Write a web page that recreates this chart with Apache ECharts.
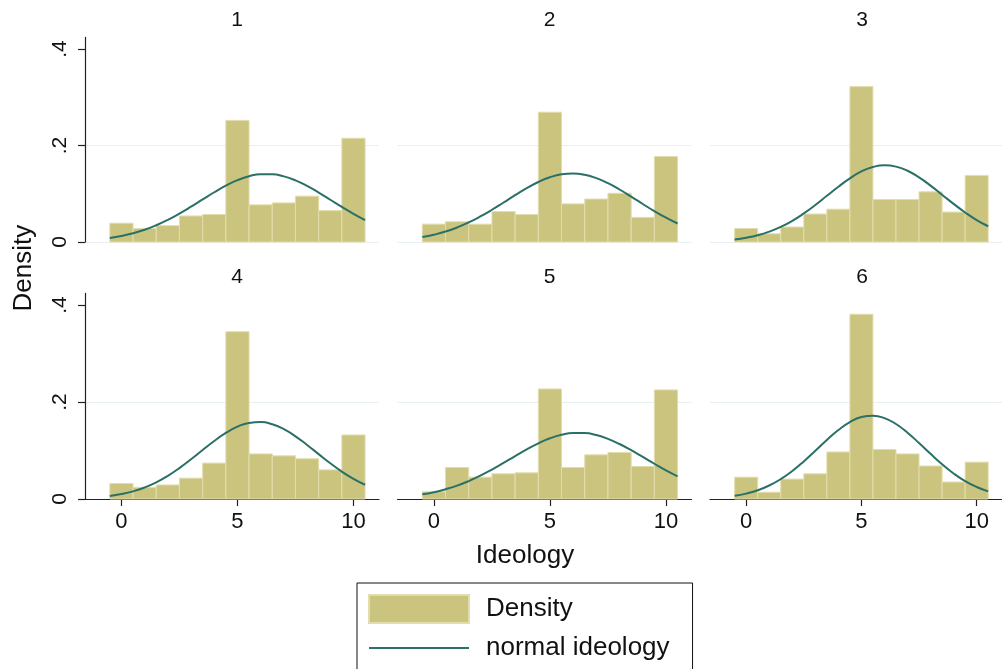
<!DOCTYPE html>
<html>
<head>
<meta charset="utf-8">
<script src="https://cdn.jsdelivr.net/npm/echarts@6/dist/echarts.min.js"></script>
<style>html,body{margin:0;padding:0;background:#fff;}#c{width:1002px;height:669px;}</style>
</head>
<body>
<div id="c"></div>
<script>
// ---- data ----
const panelTitles = ['1', '2', '3', '4', '5', '6'];
const bins = [0, 1, 2, 3, 4, 5, 6, 7, 8, 9, 10];
const binWidth = 1;
const dens1 = [0.039, 0.028, 0.034, 0.054, 0.057, 0.252, 0.077, 0.081, 0.095, 0.065, 0.215];
const dens2 = [0.037, 0.042, 0.037, 0.063, 0.057, 0.269, 0.079, 0.089, 0.101, 0.051, 0.177];
const dens3 = [0.028, 0.017, 0.031, 0.058, 0.068, 0.322, 0.088, 0.088, 0.104, 0.062, 0.138];
const dens4 = [0.032, 0.024, 0.029, 0.043, 0.074, 0.345, 0.093, 0.089, 0.083, 0.060, 0.132];
const dens5 = [0.015, 0.065, 0.045, 0.052, 0.054, 0.227, 0.065, 0.091, 0.096, 0.067, 0.225];
const dens6 = [0.045, 0.014, 0.041, 0.052, 0.097, 0.381, 0.102, 0.093, 0.068, 0.035, 0.076];
const curveX = [-0.5, 0, 0.5, 1, 1.5, 2, 2.5, 3, 3.5, 4, 4.5, 5, 5.5, 6, 6.5, 7, 7.5, 8, 8.5, 9, 9.5, 10, 10.5];
const norm1 = [0.0083,0.0124,0.0180,0.0254,0.0347,0.0459,0.0589,0.0732,0.0882,0.1031,0.1167,0.1281,0.1363,0.1405,0.1404,0.1360,0.1277,0.1162,0.1025,0.0876,0.0726,0.0583,0.0454];
const norm2 = [0.0102,0.0151,0.0216,0.0301,0.0405,0.0529,0.0668,0.0819,0.0971,0.1116,0.1243,0.1341,0.1402,0.1420,0.1393,0.1324,0.1220,0.1088,0.0941,0.0788,0.0639,0.0503,0.0383];
const norm3 = [0.0054,0.0089,0.0140,0.0214,0.0312,0.0438,0.0592,0.0767,0.0957,0.1146,0.1320,0.1462,0.1555,0.1590,0.1562,0.1476,0.1339,0.1169,0.0980,0.0790,0.0612,0.0455,0.0326];
const norm4 = [0.0062,0.0101,0.0158,0.0238,0.0344,0.0478,0.0638,0.0819,0.1009,0.1196,0.1362,0.1491,0.1569,0.1586,0.1542,0.1440,0.1293,0.1115,0.0925,0.0737,0.0565,0.0416,0.0294];
const norm5 = [0.0097,0.0141,0.0201,0.0276,0.0370,0.0481,0.0607,0.0744,0.0885,0.1023,0.1148,0.1252,0.1325,0.1362,0.1360,0.1318,0.1241,0.1134,0.1007,0.0868,0.0727,0.0591,0.0467];
const norm6 = [0.0066,0.0111,0.0180,0.0278,0.0410,0.0577,0.0775,0.0994,0.1217,0.1422,0.1587,0.1691,0.1719,0.1669,0.1547,0.1368,0.1155,0.0931,0.0717,0.0527,0.0369,0.0247,0.0158];
const yTicks = [0, 0.2, 0.4];
const yTickLabels = ['0', '.2', '.4'];
const xTicks = [0, 5, 10];
const xTickLabels = ['0', '5', '10'];
const seriesNames = ['Density', 'normal ideology'];
const xTitle = 'Ideology';
const yTitle = 'Density';

// ---- layout / style ----
const densAll = [dens1, dens2, dens3, dens4, dens5, dens6];
const normAll = [norm1, norm2, norm3, norm4, norm5, norm6];
const FONT = '"Liberation Sans", Arial, Helvetica, sans-serif';
const BAR = '#cbc47f';
const BAR_EDGE = '#e2ddad';
const LINE = '#2b7066';
const GRIDC = '#e9f0f2';
const AX = '#222';
const lefts = [85, 397.5, 710];
const tops = [37.4, 293.4];
const heights = [204.6, 205.6];
const W = 294;
const XMIN = -1.57, XMAX = 11.1, YMAX = 0.424;

const grids = [], xAxes = [], yAxes = [], series = [], titles = [];
for (let i = 0; i < 6; i++) {
  const r = Math.floor(i / 3), c = i % 3;
  grids.push({left: lefts[c], top: tops[r], width: W, height: heights[r]});
  titles.push({text: panelTitles[i], left: lefts[c] + W / 2, top: r === 0 ? 5 : 262, textAlign: 'center',
    textStyle: {fontFamily: FONT, fontSize: 21, fontWeight: 'normal', color: '#111'}});
  xAxes.push({
    type: 'value', gridIndex: i, min: XMIN, max: XMAX, show: r === 1,
    axisLine: {show: true, onZero: false, lineStyle: {color: AX, width: 1.2}},
    axisTick: {show: true, length: 7, lineStyle: {color: AX, width: 1.2}, customValues: xTicks},
    axisLabel: {show: true, customValues: xTicks, margin: 12, fontSize: 22, fontFamily: FONT, color: '#111',
      formatter: v => xTickLabels[xTicks.indexOf(v)] ?? ''},
    splitLine: {show: false}
  });
  yAxes.push({
    type: 'value', gridIndex: i, min: 0, max: YMAX,
    axisLine: {show: c === 0, onZero: false, lineStyle: {color: AX, width: 1.2}},
    axisTick: {show: c === 0, length: 7, lineStyle: {color: AX, width: 1.2}, customValues: yTicks},
    axisLabel: {show: c === 0, customValues: yTicks, rotate: 90, margin: 14, fontSize: 21, fontFamily: FONT, color: '#111',
      formatter: v => yTickLabels[yTicks.indexOf(v)] ?? ''},
    splitLine: {show: true, showMinLine: true, showMaxLine: false, lineStyle: {color: GRIDC, width: 1.2}}
  });
  series.push({
    name: seriesNames[0], type: 'custom', xAxisIndex: i, yAxisIndex: i,
    itemStyle: {color: BAR, borderColor: BAR_EDGE, borderWidth: 1},
    encode: {x: 0, y: 1},
    data: bins.map((b, k) => [b, densAll[i][k]]),
    renderItem: (params, api) => {
      const x = api.value(0), v = api.value(1);
      const p0 = api.coord([x - binWidth / 2, v]);
      const p1 = api.coord([x + binWidth / 2, 0]);
      return {type: 'rect', shape: {x: p0[0], y: p0[1], width: p1[0] - p0[0], height: p1[1] - p0[1]},
        style: {fill: BAR, stroke: BAR_EDGE, lineWidth: 1}};
    },
    z: 2
  });
  series.push({
    name: seriesNames[1], type: 'line', xAxisIndex: i, yAxisIndex: i, smooth: true,
    symbol: 'none', showSymbol: false, lineStyle: {color: LINE, width: 2}, itemStyle: {color: LINE},
    data: curveX.map((x, k) => [x, normAll[i][k]]), z: 3
  });
}
// overall axis titles via an invisible full-size grid
grids.push({left: 85, top: 37.4, width: 880, height: 461.6});
xAxes.push({type: 'value', gridIndex: 6, name: xTitle, nameLocation: 'middle', nameGap: 44,
  nameTextStyle: {fontFamily: FONT, fontSize: 26, color: '#111'},
  axisLine: {show: false}, axisTick: {show: false}, axisLabel: {show: false}, splitLine: {show: false}});
yAxes.push({type: 'value', gridIndex: 6, name: yTitle, nameLocation: 'middle', nameGap: 48,
  nameTextStyle: {fontFamily: FONT, fontSize: 26, color: '#111'},
  axisLine: {show: false}, axisTick: {show: false}, axisLabel: {show: false}, splitLine: {show: false}});

const chart = echarts.init(document.getElementById('c'), null, {renderer: 'canvas'});
chart.setOption({
  animation: false,
  backgroundColor: '#fff',
  title: titles,
  grid: grids,
  xAxis: xAxes,
  yAxis: yAxes,
  legend: {
    show: true, orient: 'vertical', left: 357, top: 583, height: 140, selectedMode: false,
    data: [{name: seriesNames[0], icon: 'rect'}, {name: seriesNames[1], itemStyle: {opacity: 0}}],
    itemWidth: 100, itemHeight: 28, itemGap: 11,
    padding: [11, 23, 11, 11], borderColor: '#111', borderWidth: 1,
    textStyle: {fontFamily: FONT, fontSize: 26, color: '#111', padding: [0, 0, 0, 12]}
  },
  series: series
});
</script>
</body>
</html>
